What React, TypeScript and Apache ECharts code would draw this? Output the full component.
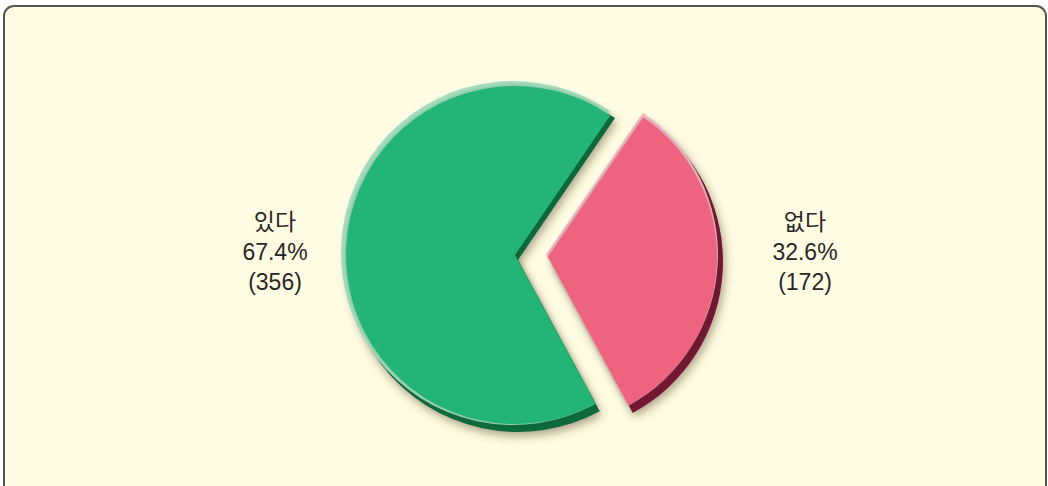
import React, { useEffect, useRef } from "react";
import * as echarts from "echarts";

const categories = ["있다", "없다"];
const counts = [356, 172];
const mainColors = ["#23b574", "#ee6480"];
const darkColors = ["#0b6a3a", "#741631"];
const lightColors = ["#a8dfc2", "#f8bccb"];

const W = 1048;
const H = 486;
const CX = 515;
const CY = 255;
const R = 172;
const START = -61.6;
const EXPLODE = 33;

function layer(colors: string[], dx: number, dy: number, r: number, withLabel: boolean, extra: any = {}) {
  return {
    type: "pie",
    center: [CX + dx, CY + dy],
    radius: r,
    startAngle: START,
    clockwise: true,
    selectedMode: withLabel ? false : "single",
    selectedOffset: EXPLODE,
    percentPrecision: 1,
    silent: true,
    emphasis: { disabled: true },
    select: { itemStyle: { borderWidth: 0 } },
    z: extra.z ?? 2,
    itemStyle: { borderWidth: 0, ...(extra.itemStyle || {}) },
    label: withLabel
      ? {
          show: true,
          position: "outside",
          formatter: "{b}\n{d}%\n({c})",
          fontSize: 23,
          lineHeight: 30,
          color: "#2a2627",
          fontFamily: "'Liberation Sans', 'Noto Sans CJK KR', sans-serif",
        }
      : { show: false },
    labelLine: { show: false },
    labelLayout: withLabel
      ? (p: any) => ({
          x: p.dataIndex === 0 ? CX - 240 : CX + 290,
          y: CY - 3,
          align: "center",
          verticalAlign: "middle",
        })
      : undefined,
    data: categories.map((name, i) => ({
      name,
      value: counts[i],
      selected: !withLabel && i === 1,
      itemStyle: { color: colors[i] },
    })),
  };
}

export default function App() {
  const ref = useRef<HTMLDivElement>(null);
  useEffect(() => {
    if (!ref.current) return;
    const chart = echarts.init(ref.current, null, { renderer: "svg", width: W, height: H });
    chart.setOption({
      animation: false,
      backgroundColor: "#ffffff",
      graphic: [
        {
          type: "rect",
          z: -10,
          shape: { x: 4, y: 6, width: 1042, height: 540, r: 10 },
          style: { fill: "#fffce3", stroke: "#555555", lineWidth: 2 },
        },
      ],
      series: [
        layer(darkColors, 3, 5, R, false, {
          z: 1,
          itemStyle: { shadowBlur: 10, shadowColor: "rgba(70,50,20,0.45)", shadowOffsetX: 2, shadowOffsetY: 4 },
        }),
        layer(lightColors, -2, -2, R, false, { z: 1 }),
        layer(mainColors, 0, 0, R - 3, false, {
          z: 2,
          itemStyle: { shadowBlur: 5, shadowColor: "rgba(20,80,50,0.35)" },
        }),
        layer(["rgba(0,0,0,0)", "rgba(0,0,0,0)"], 0, 0, R, true, { z: 3 }),
      ],
    });
    return () => chart.dispose();
  }, []);
  return (
    <div
      ref={ref}
      style={{ position: "fixed", left: 0, top: 0, width: W, height: H, background: "#ffffff" }}
    />
  );
}
